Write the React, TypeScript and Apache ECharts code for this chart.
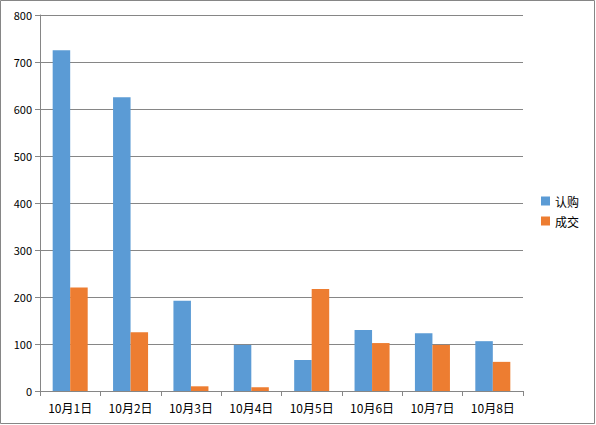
import React, { useEffect, useRef } from "react";
import * as echarts from "echarts";

const categories = ["10月1日", "10月2日", "10月3日", "10月4日", "10月5日", "10月6日", "10月7日", "10月8日"];
const subscribeValues = [725, 625, 192, 98, 66, 130, 123, 106];
const dealValues = [220, 125, 10, 8, 217, 102, 98, 62];
const seriesNames = ["认购", "成交"];

export default function App() {
  const ref = useRef<HTMLDivElement>(null);
  useEffect(() => {
    if (!ref.current) return;
    const chart = echarts.init(ref.current, null, { renderer: "svg" });
    const font = "'Microsoft YaHei', 'Noto Sans CJK SC', sans-serif";
    chart.setOption({
      animation: false,
      backgroundColor: "#ffffff",
      textStyle: { fontFamily: font },
      graphic: [
        {
          type: "rect",
          shape: { x: 0.5, y: 0.5, width: 594, height: 423 },
          style: { fill: "none", stroke: "#868686", lineWidth: 1 },
          silent: true,
        },
      ],
      legend: {
        orient: "vertical",
        left: 536,
        top: 190,
        itemWidth: 9,
        itemHeight: 9,
        itemGap: 8,
        icon: "rect",
        textStyle: { fontSize: 12, color: "#000", fontFamily: font },
        data: seriesNames,
      },
      grid: { left: 40, right: 73, top: 15, bottom: 34, containLabel: false },
      xAxis: {
        type: "category",
        data: categories,
        axisLine: { lineStyle: { color: "#868686", width: 1 } },
        axisTick: { show: true, length: 5, lineStyle: { color: "#868686" } },
        axisLabel: { color: "#000", fontSize: 12, margin: 10, fontFamily: font },
      },
      yAxis: {
        type: "value",
        min: 0,
        max: 800,
        interval: 100,
        axisLine: { show: true, lineStyle: { color: "#868686", width: 1 } },
        axisTick: { show: true, length: 5, lineStyle: { color: "#868686" } },
        axisLabel: { color: "#000", fontSize: 11, margin: 8, fontFamily: font },
        splitLine: { show: true, lineStyle: { color: "#868686", width: 1 } },
      },
      series: [
        {
          name: seriesNames[0],
          type: "bar",
          data: subscribeValues,
          itemStyle: { color: "#5B9BD5" },
          barGap: "0%",
          barCategoryGap: "42%",
        },
        {
          name: seriesNames[1],
          type: "bar",
          data: dealValues,
          itemStyle: { color: "#ED7D31" },
          barGap: "0%",
          barCategoryGap: "42%",
        },
      ],
    });
    return () => chart.dispose();
  }, []);
  return (
    <div
      ref={ref}
      style={{ position: "fixed", left: 0, top: 0, width: 596, height: 425 }}
    />
  );
}
